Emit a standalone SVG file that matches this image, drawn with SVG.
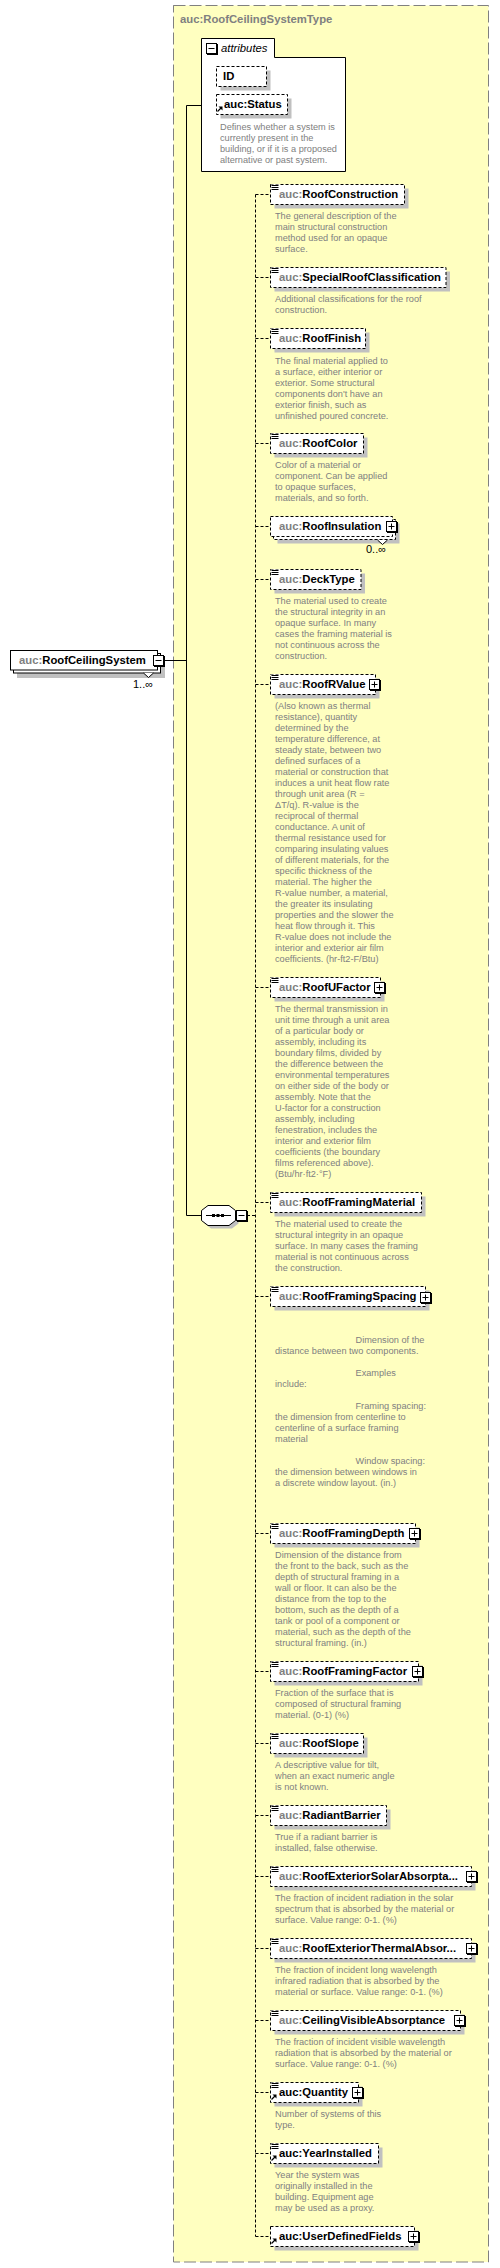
<svg xmlns="http://www.w3.org/2000/svg" xmlns:xlink="http://www.w3.org/1999/xlink" width="500" height="2268" viewBox="0 0 500 2268">
<style>
.nm{font-family:"Liberation Sans",Arial,sans-serif;font-size:11.3px;font-weight:bold;fill:#000}
.px{fill:#808080}
.ds{font-family:"Liberation Sans",Arial,sans-serif;font-size:9.2px;fill:#808080}
.it{font-family:"Liberation Sans",Arial,sans-serif;font-size:11.3px;font-style:italic;fill:#000}
.oc{font-family:"Liberation Sans",Arial,sans-serif;font-size:11px;fill:#000}
.box{fill:#fff;stroke:#000;stroke-width:1;stroke-dasharray:3,2}
.sbox{fill:#fff;stroke:#000;stroke-width:1}
.sh{fill:#c0c0c0}
.cn{stroke:#000;fill:none;stroke-width:1;stroke-dasharray:3,2}
.sl{stroke:#000;fill:none;stroke-width:1}
</style>
<defs>
<g id="plus"><rect x="1" y="1" width="11" height="11" fill="#000"/><rect x="0.5" y="0.5" width="10" height="10" fill="#fff" stroke="#000"/><path d="M2.5 5.5h6M5.5 2.5v6" stroke="#000"/></g>
<g id="minus"><rect x="1" y="1" width="11" height="11" fill="#000"/><rect x="0.5" y="0.5" width="10" height="10" fill="#fff" stroke="#000"/><path d="M2.5 5.5h6" stroke="#000"/></g>
<g id="doc"><rect x="0" y="-0.5" width="8" height="6" fill="#fff"/><path d="M0.5 0.5h7M0.5 2.5h7M0.5 4.5h7" stroke="#000"/></g>
<g id="ref"><path d="M1.5 -2.5L5 -6" stroke="#000" stroke-width="1.3"/><path d="M6.5 -7.5V-3.5L2.5 -7.5Z" fill="#000"/></g>
</defs>

<g id="type-box">
<rect x="173.5" y="5.5" width="315" height="2256.5" fill="#ffffc0" stroke="#808080" stroke-dasharray="12,4"/>
<text x="180" y="23" class="nm" fill="#808080" style="fill:#808080">auc:RoofCeilingSystemType</text>
</g>

<g id="connectors">
<path class="sl" d="M163 660.5H186.5M186.5 105.5V1215.5M186.5 105.5H201.5M186.5 1215.5H201.5"/>
<path class="cn" d="M247 1215.5H255.5M255.5 194.5V2236.5"/>
<path class="cn" d="M255.5 194.5H270.5M255.5 277.5H270.5M255.5 338.5H270.5M255.5 443.5H270.5M255.5 526.5H270.5M255.5 579.5H270.5M255.5 684.5H270.5M255.5 987.5H270.5M255.5 1202.5H270.5M255.5 1296.5H270.5M255.5 1533.5H270.5M255.5 1671.5H270.5M255.5 1743.5H270.5M255.5 1815.5H270.5M255.5 1876.5H270.5M255.5 1948.5H270.5M255.5 2020.5H270.5M255.5 2092.5H270.5M255.5 2153.5H270.5M255.5 2236.5H270.5"/>
</g>

<g id="RoofCeilingSystem">
<rect class="sh" x="17" y="657" width="148" height="21"/>
<rect class="sbox" x="13.5" y="653.5" width="147" height="19.5"/>
<rect class="sbox" x="10.5" y="650.5" width="147" height="19.5"/>
<path d="M143.5 673L148.5 677.5L153.5 673" fill="#fff" stroke="#000"/>
<text class="nm" x="19" y="663.5"><tspan class="px">auc:</tspan>RoofCeilingSystem</text>
<use xlink:href="#minus" x="153" y="655"/>
<text class="oc" x="133" y="688">1..∞</text>
</g>

<g id="attributes">
<path d="M201.5 38.5H274.5V57.5H345.5V171.5H201.5Z" fill="#fff" stroke="#000"/>
<use xlink:href="#minus" x="206" y="43"/>
<text class="it" x="221" y="52">attributes</text>
<g id="attr-ID">
<rect class="sh" x="220.5" y="70.5" width="50" height="20"/>
<rect class="box" x="216.5" y="66.5" width="50" height="20"/>
<text class="nm" x="223" y="80">ID</text>
</g>
<g id="attr-Status">
<rect class="sh" x="220.5" y="98.5" width="71" height="20"/>
<rect class="box" x="216.5" y="94.5" width="71" height="20"/>
<use xlink:href="#ref" x="216" y="114"/>
<text class="nm" x="224" y="107.5">auc:Status</text>
<text class="ds" x="220" y="130.2"><tspan x="220">Defines whether a system is</tspan><tspan x="220" dy="10.8">currently present in the</tspan><tspan x="220" dy="10.8">building, or if it is a proposed</tspan><tspan x="220" dy="10.8">alternative or past system.</tspan></text>
</g>
</g>

<g id="sequence">
<polygon class="sh" points="211,1208.5 232,1208.5 238.5,1213.5 238.5,1223.5 232,1228.5 211,1228.5 204.5,1223.5 204.5,1213.5"/>
<polygon points="208,1205.5 229,1205.5 235.5,1210.5 235.5,1220.5 229,1225.5 208,1225.5 201.5,1220.5 201.5,1210.5" fill="#fff" stroke="#000"/>
<path d="M206 1215.5H231" stroke="#000"/>
<rect x="212" y="1214" width="3" height="3" fill="#000"/>
<rect x="216.5" y="1214" width="3" height="3" fill="#000"/>
<rect x="221" y="1214" width="3" height="3" fill="#000"/>
<use xlink:href="#minus" x="236" y="1210"/>
</g>

<g id="RoofConstruction">
<rect class="sh" x="274.5" y="188.5" width="134" height="20"/>
<rect class="box" x="270.5" y="184.5" width="134" height="20"/>
<use xlink:href="#doc" x="271" y="185"/>
<text class="nm" x="279" y="197.5"><tspan class="px">auc:</tspan>RoofConstruction</text>
<text class="ds" x="275" y="219"><tspan x="275">The general description of the</tspan><tspan x="275" dy="11">main structural construction</tspan><tspan x="275" dy="11">method used for an opaque</tspan><tspan x="275" dy="11">surface.</tspan></text>
</g>

<g id="SpecialRoofClassification">
<rect class="sh" x="274.5" y="271.5" width="175.5" height="20"/>
<rect class="box" x="270.5" y="267.5" width="175.5" height="20"/>
<use xlink:href="#doc" x="271" y="268"/>
<text class="nm" x="279" y="280.5"><tspan class="px">auc:</tspan>SpecialRoofClassification</text>
<text class="ds" x="275" y="302"><tspan x="275">Additional classifications for the roof</tspan><tspan x="275" dy="11">construction.</tspan></text>
</g>

<g id="RoofFinish">
<rect class="sh" x="274.5" y="332.5" width="95" height="20"/>
<rect class="box" x="270.5" y="328.5" width="95" height="20"/>
<use xlink:href="#doc" x="271" y="329"/>
<text class="nm" x="279" y="341.5"><tspan class="px">auc:</tspan>RoofFinish</text>
<text class="ds" x="275" y="363.5"><tspan x="275">The final material applied to</tspan><tspan x="275" dy="11">a surface, either interior or</tspan><tspan x="275" dy="11">exterior. Some structural</tspan><tspan x="275" dy="11">components don't have an</tspan><tspan x="275" dy="11">exterior finish, such as</tspan><tspan x="275" dy="11">unfinished poured concrete.</tspan></text>
</g>

<g id="RoofColor">
<rect class="sh" x="274.5" y="437.5" width="93" height="20"/>
<rect class="box" x="270.5" y="433.5" width="93" height="20"/>
<use xlink:href="#doc" x="271" y="434"/>
<text class="nm" x="279" y="446.5"><tspan class="px">auc:</tspan>RoofColor</text>
<text class="ds" x="275" y="468"><tspan x="275">Color of a material or</tspan><tspan x="275" dy="11">component. Can be applied</tspan><tspan x="275" dy="11">to opaque surfaces,</tspan><tspan x="275" dy="11">materials, and so forth.</tspan></text>
</g>

<g id="RoofInsulation">
<rect class="sh" x="277.5" y="523.5" width="122" height="20"/>
<rect class="box" x="273.5" y="519.5" width="122" height="20"/>
<rect class="box" x="270.5" y="516.5" width="122" height="20"/>
<path d="M377.5 540L382.5 544.5L387.5 540" fill="#fff" stroke="#000"/>
<text class="nm" x="279" y="529.5"><tspan class="px">auc:</tspan>RoofInsulation</text>
<use xlink:href="#plus" x="386" y="521"/>
<text class="oc" x="366" y="553.3">0..∞</text>
</g>

<g id="DeckType">
<rect class="sh" x="274.5" y="573.5" width="90.5" height="20"/>
<rect class="box" x="270.5" y="569.5" width="90.5" height="20"/>
<use xlink:href="#doc" x="271" y="570"/>
<text class="nm" x="279" y="582.5"><tspan class="px">auc:</tspan>DeckType</text>
<text class="ds" x="275" y="604.3"><tspan x="275">The material used to create</tspan><tspan x="275" dy="11">the structural integrity in an</tspan><tspan x="275" dy="11">opaque surface. In many</tspan><tspan x="275" dy="11">cases the framing material is</tspan><tspan x="275" dy="11">not continuous across the</tspan><tspan x="275" dy="11">construction.</tspan></text>
</g>

<g id="RoofRValue">
<rect class="sh" x="274.5" y="678.5" width="105" height="20"/>
<rect class="box" x="270.5" y="674.5" width="105" height="20"/>
<use xlink:href="#doc" x="271" y="675"/>
<text class="nm" x="279" y="687.5"><tspan class="px">auc:</tspan>RoofRValue</text>
<use xlink:href="#plus" x="369" y="679"/>
<text class="ds" x="275" y="709.3"><tspan x="275">(Also known as thermal</tspan><tspan x="275" dy="11">resistance), quantity</tspan><tspan x="275" dy="11">determined by the</tspan><tspan x="275" dy="11">temperature difference, at</tspan><tspan x="275" dy="11">steady state, between two</tspan><tspan x="275" dy="11">defined surfaces of a</tspan><tspan x="275" dy="11">material or construction that</tspan><tspan x="275" dy="11">induces a unit heat flow rate</tspan><tspan x="275" dy="11">through unit area (R =</tspan><tspan x="275" dy="11">ΔT/q). R-value is the</tspan><tspan x="275" dy="11">reciprocal of thermal</tspan><tspan x="275" dy="11">conductance. A unit of</tspan><tspan x="275" dy="11">thermal resistance used for</tspan><tspan x="275" dy="11">comparing insulating values</tspan><tspan x="275" dy="11">of different materials, for the</tspan><tspan x="275" dy="11">specific thickness of the</tspan><tspan x="275" dy="11">material. The higher the</tspan><tspan x="275" dy="11">R-value number, a material,</tspan><tspan x="275" dy="11">the greater its insulating</tspan><tspan x="275" dy="11">properties and the slower the</tspan><tspan x="275" dy="11">heat flow through it. This</tspan><tspan x="275" dy="11">R-value does not include the</tspan><tspan x="275" dy="11">interior and exterior air film</tspan><tspan x="275" dy="11">coefficients. (hr-ft2-F/Btu)</tspan></text>
</g>

<g id="RoofUFactor">
<rect class="sh" x="274.5" y="981.5" width="110" height="20"/>
<rect class="box" x="270.5" y="977.5" width="110" height="20"/>
<use xlink:href="#doc" x="271" y="978"/>
<text class="nm" x="279" y="990.5"><tspan class="px">auc:</tspan>RoofUFactor</text>
<use xlink:href="#plus" x="374" y="982"/>
<text class="ds" x="275" y="1012.3"><tspan x="275">The thermal transmission in</tspan><tspan x="275" dy="11">unit time through a unit area</tspan><tspan x="275" dy="11">of a particular body or</tspan><tspan x="275" dy="11">assembly, including its</tspan><tspan x="275" dy="11">boundary films, divided by</tspan><tspan x="275" dy="11">the difference between the</tspan><tspan x="275" dy="11">environmental temperatures</tspan><tspan x="275" dy="11">on either side of the body or</tspan><tspan x="275" dy="11">assembly. Note that the</tspan><tspan x="275" dy="11">U-factor for a construction</tspan><tspan x="275" dy="11">assembly, including</tspan><tspan x="275" dy="11">fenestration, includes the</tspan><tspan x="275" dy="11">interior and exterior film</tspan><tspan x="275" dy="11">coefficients (the boundary</tspan><tspan x="275" dy="11">films referenced above).</tspan><tspan x="275" dy="11">(Btu/hr·ft2·°F)</tspan></text>
</g>

<g id="RoofFramingMaterial">
<rect class="sh" x="274.5" y="1196.5" width="151" height="20"/>
<rect class="box" x="270.5" y="1192.5" width="151" height="20"/>
<use xlink:href="#doc" x="271" y="1193"/>
<text class="nm" x="279" y="1205.5"><tspan class="px">auc:</tspan>RoofFramingMaterial</text>
<text class="ds" x="275" y="1227.3"><tspan x="275">The material used to create the</tspan><tspan x="275" dy="11">structural integrity in an opaque</tspan><tspan x="275" dy="11">surface. In many cases the framing</tspan><tspan x="275" dy="11">material is not continuous across</tspan><tspan x="275" dy="11">the construction.</tspan></text>
</g>

<g id="RoofFramingSpacing">
<rect class="sh" x="274.5" y="1290.5" width="155" height="20"/>
<rect class="box" x="270.5" y="1286.5" width="155" height="20"/>
<use xlink:href="#doc" x="271" y="1287"/>
<text class="nm" x="279" y="1299.5"><tspan class="px">auc:</tspan>RoofFramingSpacing</text>
<use xlink:href="#plus" x="420" y="1292"/>
<text class="ds" x="355.5" y="1343.3"><tspan x="355.5">Dimension of the</tspan><tspan x="275" dy="11">distance between two components.</tspan><tspan x="355.5" dy="22">Examples</tspan><tspan x="275" dy="11">include:</tspan><tspan x="355.5" dy="22">Framing spacing:</tspan><tspan x="275" dy="11">the dimension from centerline to</tspan><tspan x="275" dy="11">centerline of a surface framing</tspan><tspan x="275" dy="11">material</tspan><tspan x="355.5" dy="22">Window spacing:</tspan><tspan x="275" dy="11">the dimension between windows in</tspan><tspan x="275" dy="11">a discrete window layout. (in.)</tspan></text>
</g>

<g id="RoofFramingDepth">
<rect class="sh" x="274.5" y="1527.5" width="145" height="20"/>
<rect class="box" x="270.5" y="1523.5" width="145" height="20"/>
<use xlink:href="#doc" x="271" y="1524"/>
<text class="nm" x="279" y="1536.5"><tspan class="px">auc:</tspan>RoofFramingDepth</text>
<use xlink:href="#plus" x="409" y="1528"/>
<text class="ds" x="275" y="1558.3"><tspan x="275">Dimension of the distance from</tspan><tspan x="275" dy="11">the front to the back, such as the</tspan><tspan x="275" dy="11">depth of structural framing in a</tspan><tspan x="275" dy="11">wall or floor. It can also be the</tspan><tspan x="275" dy="11">distance from the top to the</tspan><tspan x="275" dy="11">bottom, such as the depth of a</tspan><tspan x="275" dy="11">tank or pool of a component or</tspan><tspan x="275" dy="11">material, such as the depth of the</tspan><tspan x="275" dy="11">structural framing. (in.)</tspan></text>
</g>

<g id="RoofFramingFactor">
<rect class="sh" x="274.5" y="1665.5" width="148" height="20"/>
<rect class="box" x="270.5" y="1661.5" width="148" height="20"/>
<use xlink:href="#doc" x="271" y="1662"/>
<text class="nm" x="279" y="1674.5"><tspan class="px">auc:</tspan>RoofFramingFactor</text>
<use xlink:href="#plus" x="412" y="1666"/>
<text class="ds" x="275" y="1696.3"><tspan x="275">Fraction of the surface that is</tspan><tspan x="275" dy="11">composed of structural framing</tspan><tspan x="275" dy="11">material. (0-1) (%)</tspan></text>
</g>

<g id="RoofSlope">
<rect class="sh" x="274.5" y="1737.5" width="93" height="20"/>
<rect class="box" x="270.5" y="1733.5" width="93" height="20"/>
<use xlink:href="#doc" x="271" y="1734"/>
<text class="nm" x="279" y="1746.5"><tspan class="px">auc:</tspan>RoofSlope</text>
<text class="ds" x="275" y="1768.3"><tspan x="275">A descriptive value for tilt,</tspan><tspan x="275" dy="11">when an exact numeric angle</tspan><tspan x="275" dy="11">is not known.</tspan></text>
</g>

<g id="RadiantBarrier">
<rect class="sh" x="274.5" y="1809.5" width="116" height="20"/>
<rect class="box" x="270.5" y="1805.5" width="116" height="20"/>
<use xlink:href="#doc" x="271" y="1806"/>
<text class="nm" x="279" y="1818.5"><tspan class="px">auc:</tspan>RadiantBarrier</text>
<text class="ds" x="275" y="1840"><tspan x="275">True if a radiant barrier is</tspan><tspan x="275" dy="11">installed, false otherwise.</tspan></text>
</g>

<g id="RoofExteriorSolarAbsorptance">
<rect class="sh" x="274.5" y="1870.5" width="201" height="20"/>
<rect class="box" x="270.5" y="1866.5" width="201" height="20"/>
<use xlink:href="#doc" x="271" y="1867"/>
<text class="nm" x="279" y="1879.5"><tspan class="px">auc:</tspan>RoofExteriorSolarAbsorpta...</text>
<use xlink:href="#plus" x="466" y="1871"/>
<text class="ds" x="275" y="1901.3"><tspan x="275">The fraction of incident radiation in the solar</tspan><tspan x="275" dy="11">spectrum that is absorbed by the material or</tspan><tspan x="275" dy="11">surface. Value range: 0-1. (%)</tspan></text>
</g>

<g id="RoofExteriorThermalAbsorptance">
<rect class="sh" x="274.5" y="1942.5" width="201" height="20"/>
<rect class="box" x="270.5" y="1938.5" width="201" height="20"/>
<use xlink:href="#doc" x="271" y="1939"/>
<text class="nm" x="279" y="1951.5"><tspan class="px">auc:</tspan>RoofExteriorThermalAbsor...</text>
<use xlink:href="#plus" x="466" y="1943"/>
<text class="ds" x="275" y="1973.3"><tspan x="275">The fraction of incident long wavelength</tspan><tspan x="275" dy="11">infrared radiation that is absorbed by the</tspan><tspan x="275" dy="11">material or surface. Value range: 0-1. (%)</tspan></text>
</g>

<g id="CeilingVisibleAbsorptance">
<rect class="sh" x="274.5" y="2014.5" width="190" height="20"/>
<rect class="box" x="270.5" y="2010.5" width="190" height="20"/>
<use xlink:href="#doc" x="271" y="2011"/>
<text class="nm" x="279" y="2023.5"><tspan class="px">auc:</tspan>CeilingVisibleAbsorptance</text>
<use xlink:href="#plus" x="454" y="2015"/>
<text class="ds" x="275" y="2045"><tspan x="275">The fraction of incident visible wavelength</tspan><tspan x="275" dy="11">radiation that is absorbed by the material or</tspan><tspan x="275" dy="11">surface. Value range: 0-1. (%)</tspan></text>
</g>

<g id="Quantity">
<rect class="sh" x="274.5" y="2086.5" width="88" height="20"/>
<rect class="box" x="270.5" y="2082.5" width="88" height="20"/>
<use xlink:href="#doc" x="271" y="2083"/>
<use xlink:href="#ref" x="270" y="2102"/>
<text class="nm" x="279" y="2095.5">auc:Quantity</text>
<use xlink:href="#plus" x="352" y="2087"/>
<text class="ds" x="275" y="2117"><tspan x="275">Number of systems of this</tspan><tspan x="275" dy="11">type.</tspan></text>
</g>

<g id="YearInstalled">
<rect class="sh" x="274.5" y="2147.5" width="108" height="20"/>
<rect class="box" x="270.5" y="2143.5" width="108" height="20"/>
<use xlink:href="#doc" x="271" y="2144"/>
<use xlink:href="#ref" x="270" y="2163"/>
<text class="nm" x="279" y="2156.5">auc:YearInstalled</text>
<text class="ds" x="275" y="2178.3"><tspan x="275">Year the system was</tspan><tspan x="275" dy="11">originally installed in the</tspan><tspan x="275" dy="11">building. Equipment age</tspan><tspan x="275" dy="11">may be used as a proxy.</tspan></text>
</g>

<g id="UserDefinedFields">
<rect class="sh" x="274.5" y="2230.5" width="144" height="20"/>
<rect class="box" x="270.5" y="2226.5" width="144" height="20"/>
<use xlink:href="#ref" x="270" y="2246"/>
<text class="nm" x="279" y="2239.5">auc:UserDefinedFields</text>
<use xlink:href="#plus" x="408" y="2231"/>
</g>
</svg>
